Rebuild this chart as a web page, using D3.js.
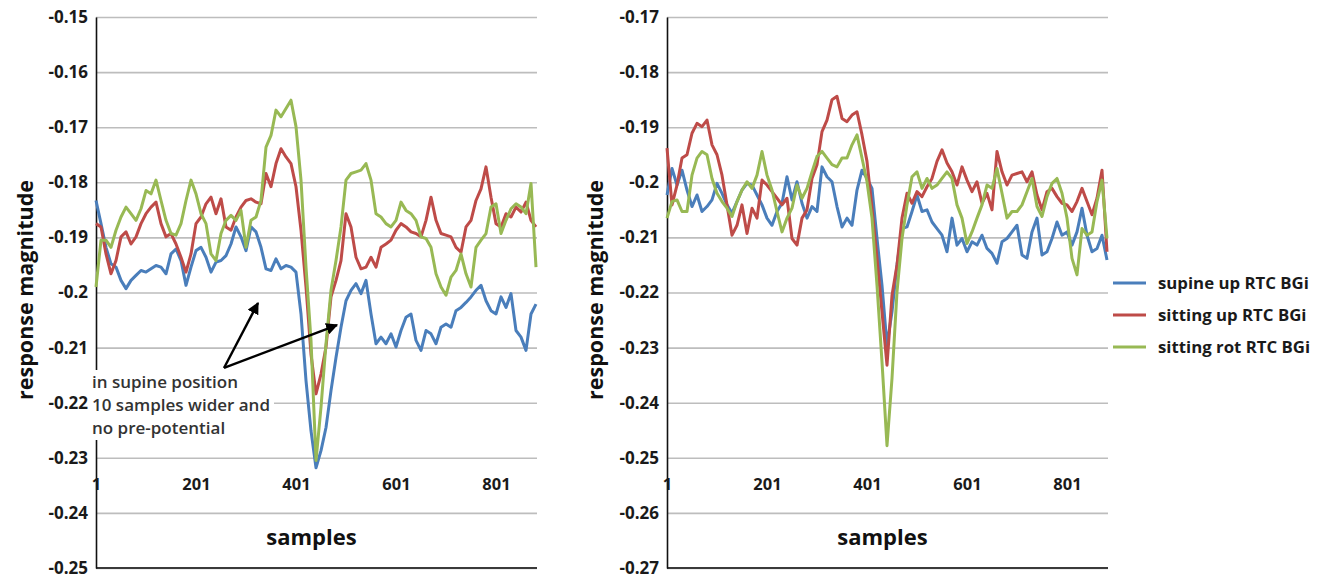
<!DOCTYPE html>
<html><head><meta charset="utf-8">
<script src="https://cdn.jsdelivr.net/npm/d3@7"></script>
<style>
html,body{margin:0;padding:0;background:#fff;}
svg{display:block;font-family:"Open Sans","Noto Sans",sans-serif;}
</style></head>
<body><svg id="chart" width="1323" height="578"></svg>
<script>
// ---------------- data ----------------
const samples = d3.range(1, 882, 10); // sample index every 10 samples (1..881)
const xTicks = [1, 201, 401, 601, 801];
const leftYTicks = [-0.25,-0.24,-0.23,-0.22,-0.21,-0.2,-0.19,-0.18,-0.17,-0.16,-0.15];
const rightYTicks = [-0.27,-0.26,-0.25,-0.24,-0.23,-0.22,-0.21,-0.2,-0.19,-0.18,-0.17];
const seriesNames = ["supine up RTC BGi","sitting up RTC BGi","sitting rot RTC BGi"];

const leftSupine = [-0.1833,-0.1875,-0.1918,-0.1948,-0.1954,-0.1978,-0.1993,-0.1978,-0.1969,-0.1960,
-0.1963,-0.1957,-0.1951,-0.1954,-0.1966,-0.1930,-0.1921,-0.1942,-0.1987,-0.1954,
-0.1924,-0.1918,-0.1936,-0.1963,-0.1945,-0.1942,-0.1933,-0.1912,-0.1881,-0.1899,
-0.1924,-0.1881,-0.1890,-0.1918,-0.1957,-0.1960,-0.1939,-0.1957,-0.1951,-0.1954,
-0.1963,-0.2039,-0.2160,-0.2251,
-0.2318,-0.2287,-0.2245,-0.2178,-0.2118,-0.2063,-0.2015,-0.1996,-0.1984,-0.2002,
-0.1978,-0.2039,-0.2093,-0.2081,-0.2093,-0.2075,-0.2099,-0.2069,-0.2045,-0.2039,
-0.2087,-0.2105,-0.2069,-0.2075,-0.2093,-0.2063,-0.2057,-0.2063,-0.2033,-0.2027,
-0.2018,-0.2008,-0.1996,-0.1987,-0.2015,-0.2033,-0.2039,-0.2008,-0.2027,-0.2002,
-0.2069,-0.2081,-0.2105,-0.2039,-0.2021];
const leftSittingUp = [-0.1875,-0.1881,-0.1930,-0.1966,-0.1942,-0.1899,-0.1890,-0.1912,-0.1899,-0.1875,
-0.1857,-0.1845,-0.1836,-0.1875,-0.1899,-0.1893,-0.1912,-0.1936,-0.1963,-0.1930,
-0.1875,-0.1863,-0.1839,-0.1827,-0.1857,-0.1830,-0.1881,-0.1887,-0.1863,-0.1845,
-0.1833,-0.1830,-0.1836,-0.1839,-0.1784,-0.1808,-0.1766,-0.1739,-0.1754,-0.1766,
-0.1808,-0.1887,-0.1990,-0.2112,
-0.2184,-0.2148,-0.2099,-0.2008,-0.1978,-0.1942,-0.1857,-0.1881,-0.1936,-0.1957,
-0.1954,-0.1936,-0.1954,-0.1918,-0.1912,-0.1905,-0.1887,-0.1875,-0.1881,-0.1890,
-0.1893,-0.1899,-0.1869,-0.1827,-0.1869,-0.1893,-0.1896,-0.1899,-0.1918,-0.1927,
-0.1881,-0.1869,-0.1833,-0.1812,-0.1772,-0.1827,-0.1875,-0.1881,-0.1857,-0.1863,
-0.1845,-0.1854,-0.1836,-0.1869,-0.1881];
const leftSittingRot = [-0.1990,-0.1905,-0.1905,-0.1918,-0.1887,-0.1863,-0.1845,-0.1857,-0.1869,-0.1848,
-0.1815,-0.1821,-0.1796,-0.1833,-0.1869,-0.1893,-0.1896,-0.1875,-0.1833,-0.1796,
-0.1821,-0.1857,-0.1875,-0.1930,-0.1942,-0.1893,-0.1869,-0.1860,-0.1869,-0.1851,
-0.1918,-0.1869,-0.1863,-0.1833,-0.1736,-0.1715,-0.1669,-0.1681,-0.1666,-0.1651,
-0.1699,-0.1796,-0.1954,-0.2087,
-0.2305,-0.2208,-0.2093,-0.1996,-0.1942,-0.1881,-0.1796,-0.1784,-0.1781,-0.1778,
-0.1766,-0.1796,-0.1857,-0.1863,-0.1875,-0.1881,-0.1869,-0.1836,-0.1851,-0.1857,
-0.1869,-0.1899,-0.1902,-0.1918,-0.1966,-0.1990,-0.2005,-0.1972,-0.1960,-0.1930,
-0.1966,-0.1990,-0.1918,-0.1905,-0.1893,-0.1845,-0.1839,-0.1893,-0.1869,-0.1848,
-0.1839,-0.1845,-0.1857,-0.1802,-0.1954];

const rightSupine = [-0.2023,-0.1975,-0.2005,-0.1978,-0.2014,-0.2044,-0.2023,-0.2053,-0.2044,-0.2032,
-0.2002,-0.2020,-0.2041,-0.2056,-0.2035,-0.2014,-0.2002,-0.2005,-0.2023,-0.2041,
-0.2065,-0.2078,-0.2053,-0.2038,-0.1990,-0.2032,-0.1999,-0.2038,-0.2065,-0.2044,
-0.2053,-0.1972,-0.1990,-0.1999,-0.2044,-0.2081,-0.2065,-0.2078,-0.2014,-0.1978,
-0.1993,-0.2011,-0.2102,-0.2187,-0.2296,-0.2235,-0.2150,-0.2084,-0.2081,-0.2053,
-0.2023,-0.2053,-0.2050,-0.2072,-0.2084,-0.2096,-0.2126,-0.2065,-0.2114,-0.2102,
-0.2126,-0.2108,-0.2114,-0.2096,-0.2120,-0.2129,-0.2147,-0.2108,-0.2102,-0.2090,
-0.2078,-0.2132,-0.2138,-0.2090,-0.2065,-0.2132,-0.2126,-0.2102,-0.2072,-0.2096,
-0.2090,-0.2114,-0.2090,-0.2047,-0.2096,-0.2126,-0.2120,-0.2096,-0.2141];
const rightSittingUp = [-0.1938,-0.2041,-0.2005,-0.1956,-0.1950,-0.1911,-0.1893,-0.1899,-0.1887,-0.1932,
-0.1950,-0.1987,-0.2041,-0.2096,-0.2078,-0.2041,-0.2093,-0.2047,-0.2065,-0.1996,
-0.2005,-0.2017,-0.2029,-0.2041,-0.2029,-0.2102,-0.2114,-0.2065,-0.2050,-0.1993,
-0.1968,-0.1908,-0.1887,-0.1850,-0.1844,-0.1884,-0.1890,-0.1878,-0.1872,-0.1914,
-0.1962,-0.2047,-0.2138,-0.2235,-0.2332,-0.2205,-0.2150,-0.2065,-0.2020,-0.2038,
-0.2017,-0.2026,-0.2008,-0.1993,-0.1962,-0.1941,-0.1965,-0.1981,-0.2005,-0.1972,
-0.1996,-0.2017,-0.1999,-0.2038,-0.2020,-0.2050,-0.1944,-0.1981,-0.2005,-0.1987,
-0.1984,-0.1981,-0.1999,-0.1981,-0.2023,-0.2050,-0.2017,-0.2011,-0.2026,-0.2038,
-0.2041,-0.2053,-0.2035,-0.2011,-0.2035,-0.2059,-0.2029,-0.1978,-0.2126];
const rightSittingRot = [-0.2065,-0.2035,-0.2032,-0.2053,-0.2053,-0.1987,-0.1956,-0.1944,-0.1950,-0.1993,
-0.2020,-0.2035,-0.2047,-0.2062,-0.2035,-0.2014,-0.1999,-0.2011,-0.1987,-0.1944,
-0.1987,-0.2014,-0.2053,-0.2090,-0.2065,-0.2047,-0.2005,-0.2029,-0.2011,-0.1981,
-0.1953,-0.1944,-0.1956,-0.1968,-0.1972,-0.1956,-0.1956,-0.1932,-0.1914,-0.1956,
-0.1999,-0.2065,-0.2187,-0.2326,-0.2478,-0.2356,-0.2199,-0.2102,-0.2041,-0.1990,
-0.1981,-0.2011,-0.1993,-0.2011,-0.2005,-0.1993,-0.1981,-0.1993,-0.2041,-0.2065,
-0.2111,-0.2090,-0.2065,-0.2041,-0.2005,-0.2011,-0.1975,-0.2020,-0.2065,-0.2053,
-0.2053,-0.2041,-0.2017,-0.1993,-0.2044,-0.2062,-0.2026,-0.2002,-0.1993,-0.2020,
-0.2065,-0.2138,-0.2168,-0.2084,-0.2096,-0.2090,-0.2035,-0.1996,-0.2102];

const colors = ["#4a7ebb","#be4b48","#98b954"];

// ---------------- drawing ----------------
const svg = d3.select("#chart");
const TOP = 17, BOTTOM = 568;
const fmt = v => String(+v.toFixed(2));

function panel(opt){
  const x = d3.scaleLinear().domain([1, 883]).range([opt.x0, opt.x1]);
  const y = d3.scaleLinear().domain([opt.yTicks[0], opt.yTicks[opt.yTicks.length-1]]).range([BOTTOM, TOP]);
  const g = svg.append("g");

  // gridlines
  const grid = g.append("g").attr("transform", `translate(${opt.x0},0)`)
    .call(d3.axisRight(y).tickValues(opt.yTicks).tickSize(opt.x1 - opt.x0).tickFormat(""));
  grid.select(".domain").remove();
  grid.selectAll("line").attr("stroke","#bdbdbd").attr("stroke-width",1.6);

  // bottom line
  g.append("line").attr("x1",opt.x0).attr("x2",opt.x1)
    .attr("y1",y(opt.yTicks[0])).attr("y2",y(opt.yTicks[0]))
    .attr("stroke","#3a3a3a").attr("stroke-width",2);

  // y axis
  const ya = g.append("g").attr("transform", `translate(${opt.x0},0)`)
    .call(d3.axisLeft(y).tickValues(opt.yTicks).tickSize(0).tickPadding(8).tickFormat(fmt));
  ya.select(".domain").attr("stroke","#111").attr("stroke-width",1.6);
  ya.selectAll("text").attr("font-size",17).attr("font-weight",700).attr("fill","#1a1a1a")
    .attr("font-family","'Open Sans',sans-serif");

  // x tick labels
  const xa = g.append("g").attr("transform", `translate(0,${opt.xLabelY})`)
    .call(d3.axisBottom(x).tickValues(opt.xTicks).tickSize(0).tickPadding(0).tickFormat(d3.format("d")));
  xa.select(".domain").remove();
  xa.selectAll("text").attr("dy","0.35em").attr("font-size",16.5).attr("font-weight",700)
    .attr("fill","#1a1a1a").attr("font-family","'Open Sans',sans-serif");

  // lines
  const line = d3.line().x((d,i)=>x(samples[i])).y(d=>y(d));
  opt.series.forEach((s,i)=>{
    g.append("path").datum(s).attr("d",line).attr("fill","none")
      .attr("stroke",colors[i]).attr("stroke-width",3).attr("stroke-linejoin","round");
  });

  // axis titles
  g.append("text").attr("x",(opt.x0+opt.x1)/2 - 5).attr("y",537).attr("dy","0.35em")
    .attr("text-anchor","middle").attr("font-size",22).attr("font-weight",700).attr("fill","#111")
    .text("samples");
  g.append("text").attr("transform",`translate(${opt.yTitleX},290) rotate(-90)`)
    .attr("dy","0.35em").attr("text-anchor","middle").attr("font-size",21.5).attr("font-weight",700)
    .attr("fill","#111").text("response magnitude");
  return {x,y,g};
}

const L = panel({x0:96, x1:537, yTicks:leftYTicks, xTicks, xLabelY:484, yTitleX:25,
  series:[leftSupine,leftSittingUp,leftSittingRot]});
const R = panel({x0:667, x1:1108, yTicks:rightYTicks, xTicks, xLabelY:484, yTitleX:595,
  series:[rightSupine,rightSittingUp,rightSittingRot]});

// annotation (left panel)
const ann = svg.append("g");
ann.append("rect").attr("x",90).attr("y",370).attr("width",184).attr("height",70).attr("fill","#fff");
const annLines = ["in supine position","10 samples wider and","no pre-potential"];
ann.selectAll("text.ann").data(annLines).join("text").attr("class","ann")
  .attr("x",92).attr("y",(d,i)=>382+i*23).attr("dy","0.35em")
  .attr("font-size",17).attr("font-weight",600).attr("fill","#333").text(d=>d);

svg.append("defs").append("marker").attr("id","arr").attr("viewBox","0 0 10 10")
  .attr("refX",9).attr("refY",5).attr("markerWidth",5).attr("markerHeight",5)
  .attr("orient","auto").append("path").attr("d","M0,0 L10,5 L0,10 z").attr("fill","#000");
// arrow tips positioned in data space
const start = [L.x(257), L.y(-0.2137)];
[[325, -0.2019],[483, -0.2059]].forEach(t=>{
  ann.append("line").attr("x1",start[0]).attr("y1",start[1])
    .attr("x2",L.x(t[0])).attr("y2",L.y(t[1]))
    .attr("stroke","#000").attr("stroke-width",2.4).attr("marker-end","url(#arr)");
});

// legend
const leg = svg.append("g");
seriesNames.forEach((n,i)=>{
  const yy = [283,315,347][i];
  leg.append("line").attr("x1",1113).attr("x2",1146).attr("y1",yy).attr("y2",yy)
    .attr("stroke",colors[i]).attr("stroke-width",3);
  leg.append("text").attr("x",1158).attr("y",yy).attr("dy","0.35em")
    .attr("font-size",16.8).attr("font-weight",700).attr("fill","#1a1a1a").text(n);
});
</script></body></html>
